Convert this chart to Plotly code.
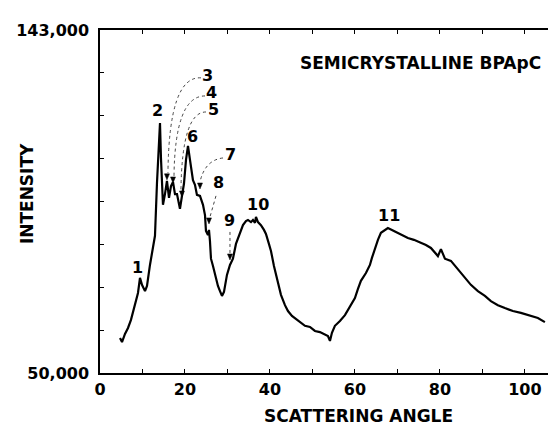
import numpy as np
import plotly.graph_objects as go

# ---- data ----
angle = [4.71, 5.18, 5.88, 6.59, 7.29, 7.76, 8.47, 8.94, 9.41, 9.88, 10.59, 11.06, 11.76, 12.47, 12.94,
         13.41, 14.12, 14.35, 14.82, 15.29, 15.76, 16.24, 16.71, 17.18, 17.65, 18.12, 18.59, 18.82,
         19.29, 19.76, 20.24, 20.71, 21.18, 21.41, 21.88, 22.35, 22.82, 23.53, 24.24, 24.71, 24.94,
         25.41, 25.65, 25.88, 26.12, 26.59, 27.06, 27.76, 28.24, 28.71, 29.18, 29.41, 29.88, 30.59,
         31.29, 32.0, 32.47, 33.18, 33.65, 34.35, 34.82, 35.53, 36.0, 36.47, 36.71, 37.18, 37.88,
         38.59, 39.06, 39.76, 40.24, 40.94, 41.41, 42.12, 42.59, 43.53, 44.24, 45.18, 45.88, 47.06,
         48.24, 49.41, 50.59, 51.76, 52.94, 53.65, 54.12, 54.59, 55.29, 56.47, 57.65, 58.82, 60.0,
         60.71, 61.41, 62.59, 63.53, 64.0, 64.71, 65.41, 66.12, 67.06, 67.76, 68.71, 69.65, 71.06,
         72.47, 73.88, 75.53, 76.71, 77.88, 78.82, 79.53, 80.24, 81.18, 82.59, 84.24, 85.88, 87.29,
         88.94, 90.59, 92.0, 93.65, 95.29, 97.18, 99.06, 100.94, 103.06, 104.71]

intensity = [59500, 58400, 60600, 62200, 64400, 66300, 69800, 71700, 75800, 73900, 72200, 73600, 79300,
             84400, 87200, 101500, 117800, 108300, 95600, 98500, 102100, 97500, 100700, 101800, 98500,
             98500, 95800, 94500, 98000, 101300, 107800, 111600, 107800, 105600, 102300, 101000, 98300,
             98000, 95600, 92800, 88500, 87400, 88800, 85800, 81000, 79000, 76600, 73600, 72200, 70900,
             72000, 73600, 76600, 79300, 81000, 85000, 86600, 88800, 90100, 91200, 91500, 90900, 91500,
             90700, 92300, 90900, 90100, 88800, 87700, 85000, 83100, 79000, 76600, 73100, 71200, 68400,
             66800, 65500, 64900, 63800, 62800, 62500, 61400, 61100, 60300, 60000, 58700, 60900, 62800,
             64100, 65700, 67900, 70300, 72800, 75000, 77100, 79300, 81200, 83900, 86100, 88000, 88800,
             89300, 88800, 88200, 87400, 86600, 86100, 85300, 84700, 83900, 82800, 81700, 83600, 81000,
             80400, 78200, 75800, 73900, 72200, 70900, 69500, 68400, 67600, 66800, 66300, 65700, 64900,
             63800]

peak_ids = ["1", "2", "3", "4", "5", "6", "7", "8", "9", "10", "11"]
peak_angles = [9.41, 14.12, 15.76, 17.18, 19.29, 20.71, 23.53, 25.65, 30.59, 36.71, 67.76]

x_tick_values = [0, 10, 20, 30, 40, 50, 60, 70, 80, 90, 100]
x_tick_labels = ["0", "", "20", "", "40", "", "60", "", "80", "", "100"]
y_min, y_max = 50000, 143000
y_tick_labels = ["50,000", "", "", "", "", "", "", "", "143,000"]

title_text = "SEMICRYSTALLINE BPApC"
x_title = "SCATTERING ANGLE"
y_title = "INTENSITY"

# ---- label / arrow layout (pixel offsets relative to the curve point of each peak) ----
label_layout = {
    "1": dict(lab=(-2, 10)),
    "2": dict(lab=(-2, 12)),
    "3": dict(lab=(41, 105), tip=1, path="M 34,103 Q 2,105 1,8"),
    "4": dict(lab=(38, 89), tip=-1, path="M 32,86 Q 2,86 1,6"),
    "5": dict(lab=(32, 86), tip=-1, path="M 24,84 Q 0,84 -1,6"),
    "6": dict(lab=(5, 9)),
    "7": dict(lab=(31, 41), tip=7, path="M 23,38 Q 5,36 0,14"),
    "8": dict(lab=(10, 47), tip=6, path="M 7,34 L 1,13"),
    "9": dict(lab=(0, 44), tip=5, path="M 0,33 L 0,12"),
    "10": dict(lab=(2, 12)),
    "11": dict(lab=(1, 13)),
}

FONT = "DejaVu Sans"

fig = go.Figure()
fig.add_trace(go.Scatter(x=angle, y=intensity, mode="lines",
                         line=dict(color="black", width=2.2), hoverinfo="skip"))

annotations = []
shapes = []
for pid, pa in zip(peak_ids, peak_angles):
    py = float(np.interp(pa, angle, intensity))
    lay = label_layout[pid]
    dx, dy = lay["lab"]
    annotations.append(dict(x=pa, y=py, xref="x", yref="y", text=pid, showarrow=False,
                            xanchor="center", yanchor="middle", xshift=dx, yshift=dy,
                            font=dict(family=FONT, size=16, color="black", weight="bold")))
    if "path" in lay:
        shapes.append(dict(type="path", xref="x", yref="y", xsizemode="pixel", ysizemode="pixel",
                           xanchor=pa, yanchor=py, path=lay["path"],
                           line=dict(color="#444", width=1, dash="dot")))
        g = lay["tip"]
        tri = "M -2.5,%d L 2.5,%d L 0,%d Z" % (g + 6, g + 6, g)
        shapes.append(dict(type="path", xref="x", yref="y", xsizemode="pixel", ysizemode="pixel",
                           xanchor=pa, yanchor=py, path=tri, fillcolor="black",
                           line=dict(color="black", width=0.5)))

annotations.append(dict(x=0.696, y=0.904, xref="paper", yref="paper", text=title_text,
                        showarrow=False, xanchor="center", yanchor="middle",
                        font=dict(family=FONT, size=17, color="black", weight="bold")))
annotations.append(dict(x=0.56, y=-0.125, xref="paper", yref="paper", text=x_title,
                        showarrow=False, xanchor="center", yanchor="middle",
                        font=dict(family=FONT, size=17, color="black", weight="bold")))
annotations.append(dict(x=-0.158, y=0.522, xref="paper", yref="paper", text=y_title,
                        showarrow=False, xanchor="center", yanchor="middle", textangle=-90,
                        font=dict(family=FONT, size=17, color="black", weight="bold")))

y_tick_values = [y_min + k * (y_max - y_min) / 8 for k in range(9)]

fig.update_layout(
    width=556, height=427,
    margin=dict(l=92, r=3, t=22, b=62, autoexpand=False),
    paper_bgcolor="white", plot_bgcolor="white",
    showlegend=False,
    annotations=annotations,
    shapes=shapes,
    xaxis=dict(range=[0, 108.5], tickmode="array", tickvals=x_tick_values, ticktext=x_tick_labels,
               ticks="inside", ticklen=4, tickwidth=1, tickcolor="black", automargin=False,
               showline=True, linecolor="black", linewidth=1.5, mirror="ticks",
               showgrid=False, zeroline=False, ticklabelstandoff=1,
               tickfont=dict(family=FONT, size=16, color="black", weight="bold")),
    yaxis=dict(range=[y_min, y_max], tickmode="array", tickvals=y_tick_values, ticktext=y_tick_labels,
               ticks="inside", ticklen=4, tickwidth=1, tickcolor="black", automargin=False,
               showline=True, linecolor="black", linewidth=1.5, mirror=False,
               showgrid=False, zeroline=False, ticklabelstandoff=6,
               tickfont=dict(family=FONT, size=16, color="black", weight="bold")),
)

fig.write_html("out.html")
